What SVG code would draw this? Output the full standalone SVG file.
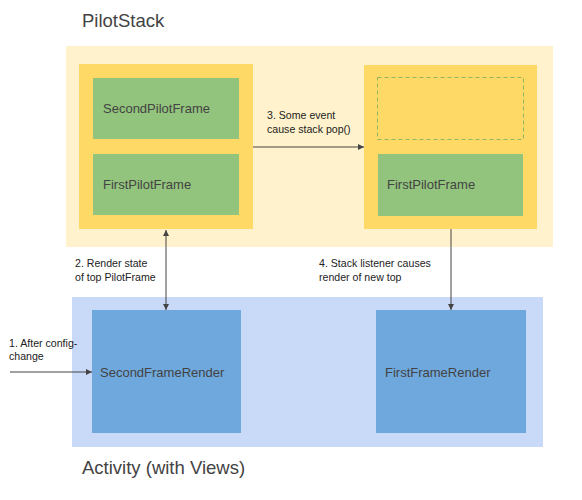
<svg xmlns="http://www.w3.org/2000/svg" width="582" height="500" viewBox="0 0 582 500">
<defs>
<style>
.title{font-family:"Liberation Sans",Arial,sans-serif;font-size:18.5px;fill:#434343}
.node{font-family:"Liberation Sans",Arial,sans-serif;font-size:13px;fill:#434343}
.lbl{font-family:"Liberation Sans",Arial,sans-serif;font-size:10.6px;fill:#222}
.conn{stroke:#444;stroke-width:1;fill:none}
.green{fill:#93c47d}
.gold{fill:#ffd966}
.blue{fill:#6fa8dc}
</style>
<marker id="ah" viewBox="0 0 10 10" refX="10" refY="5" markerWidth="6" markerHeight="6" markerUnits="userSpaceOnUse" orient="auto-start-reverse">
<path d="M0,0 L10,5 L0,10 z" fill="#444"/>
</marker>
</defs>
<rect width="582" height="500" fill="#fff"/>
<g id="pilotstack">
<rect x="66" y="46" width="487" height="201" fill="#fff2cc"/>
<text class="title" x="82" y="27">PilotStack</text>
</g>
<g id="activity">
<rect x="72" y="297" width="471" height="150" fill="#c9daf8"/>
<text class="title" x="82" y="474">Activity (with Views)</text>
</g>
<g id="stack-left">
<rect class="gold" x="79" y="64" width="174" height="165"/>
</g>
<g id="second-pilot-frame">
<rect class="green" x="93" y="78" width="146" height="61"/>
<text class="node" x="103" y="113">SecondPilotFrame</text>
</g>
<g id="first-pilot-frame-left">
<rect class="green" x="93" y="154" width="146" height="61"/>
<text class="node" x="103" y="189">FirstPilotFrame</text>
</g>
<g id="stack-right">
<rect class="gold" x="364" y="65" width="173" height="164"/>
<rect x="377.5" y="77.5" width="146" height="62" fill="none" stroke="#8fb562" stroke-width="1" stroke-dasharray="4,3"/>
</g>
<g id="first-pilot-frame-right">
<rect class="green" x="378" y="154" width="145" height="62"/>
<text class="node" x="387" y="189">FirstPilotFrame</text>
</g>
<g id="second-frame-render">
<rect class="blue" x="92" y="310" width="149" height="123"/>
<text class="node" x="100" y="377">SecondFrameRender</text>
</g>
<g id="first-frame-render">
<rect class="blue" x="376" y="310" width="150" height="123"/>
<text class="node" x="385" y="377">FirstFrameRender</text>
</g>
<g id="connectors">
<line class="conn" x1="10" y1="372" x2="92" y2="372" marker-end="url(#ah)"/>
<line class="conn" x1="166" y1="230" x2="166" y2="310" marker-start="url(#ah)" marker-end="url(#ah)"/>
<line class="conn" x1="253" y1="147" x2="364" y2="147" marker-end="url(#ah)"/>
<line class="conn" x1="451" y1="229" x2="451" y2="310" marker-end="url(#ah)"/>
<text class="lbl" x="9" y="347">1. After config-</text>
<text class="lbl" x="9" y="360">change</text>
<text class="lbl" x="75" y="267">2. Render state</text>
<text class="lbl" x="75" y="281">of top PilotFrame</text>
<text class="lbl" x="267" y="119">3. Some event</text>
<text class="lbl" x="267" y="133">cause stack pop()</text>
<text class="lbl" x="319" y="267">4. Stack listener causes</text>
<text class="lbl" x="319" y="281">render of new top</text>
</g>
</svg>
